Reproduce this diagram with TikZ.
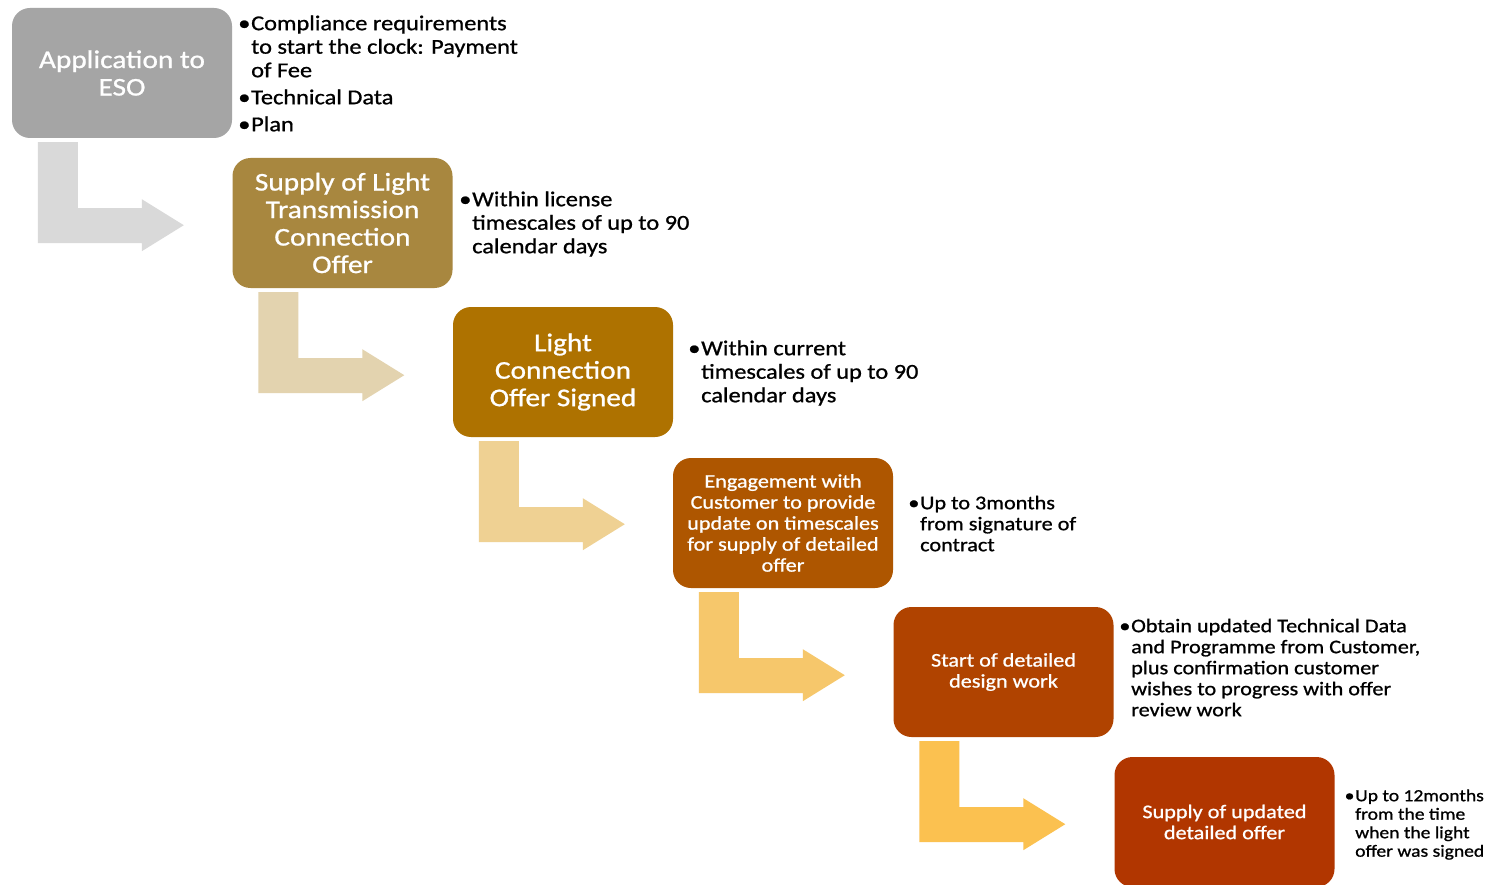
\documentclass[tikz,border=0pt]{standalone}
\usepackage{fontspec}
\setmainfont{Carlito}[FakeStretch=1.15, FakeBold=0.9]
\usetikzlibrary{calc}
\definecolor{bA}{HTML}{A5A5A5}\definecolor{aA}{HTML}{D9D9D9}
\definecolor{bB}{HTML}{A8873F}\definecolor{aB}{HTML}{E3D3AF}
\definecolor{bC}{HTML}{AE7200}\definecolor{aC}{HTML}{EFD193}
\definecolor{bD}{HTML}{AE5600}\definecolor{aD}{HTML}{F6C76B}
\definecolor{bE}{HTML}{B04300}\definecolor{aE}{HTML}{FBC150}
\definecolor{bF}{HTML}{B13600}\definecolor{aF}{HTML}{FFC145}
\newcommand{\bul}{\llap{\textbullet\kern0.8pt}}
\tikzset{
  stepbox/.style={rounded corners=18pt, minimum width=220pt, minimum height=130pt, inner sep=0pt, text=white, align=center},
  bigtxt/.style={font=\fontsize{25.5}{27.5}\selectfont},
  smalltxt/.style={font=\fontsize{19.3}{21}\selectfont},
  note/.style={anchor=north west, inner sep=0pt, align=left, text=black},
  noteL/.style={note, font=\fontsize{21.2}{23.5}\selectfont},
  noteM/.style={note, font=\fontsize{19.3}{21}\selectfont},
  noteS/.style={note, font=\fontsize{17}{18.5}\selectfont},
}
\newcommand{\bentarrow}[2]{%
  \fill[#2] ($(#1.south west)+(26,4)$) -- ($(#1.south west)+(66,4)$) -- ($(#1.south west)+(66,70)$)
    -- ($(#1.south west)+(130,70)$) -- ($(#1.south west)+(130,61)$) -- ($(#1.south west)+(172,87)$)
    -- ($(#1.south west)+(130,113)$) -- ($(#1.south west)+(130,105)$) -- ($(#1.south west)+(26,105)$) -- cycle;}
\begin{document}
\begin{tikzpicture}[x=1pt,y=-1pt]
\useasboundingbox[fill=white] (0,0) rectangle (1490,885);
\node[stepbox, bigtxt, fill=bA] (s1) at (122,73) {Application to\\ESO};
\node[stepbox, bigtxt, fill=bB] (s2) at (342.5,223) {Supply of Light\\Transmission\\Connection\\Offer};
\node[stepbox, bigtxt, fill=bC] (s3) at (563,372) {Light\\Connection\\Offer Signed};
\node[stepbox, smalltxt, fill=bD] (s4) at (783,523) {Engagement with\\Customer to provide\\update on timescales\\for supply of detailed\\offer};
\node[stepbox, smalltxt, fill=bE] (s5) at (1003.5,672) {Start of detailed\\design work};
\node[stepbox, smalltxt, fill=bF] (s6) at (1224.5,822) {Supply of updated\\detailed offer};
\bentarrow{s1}{aA}
\bentarrow{s2}{aB}
\bentarrow{s3}{aC}
\bentarrow{s4}{aD}
\bentarrow{s5}{aE}
\bentarrow{s6}{aF}
\node[noteL] (n1) at (251,13) {\rule{0pt}{17pt}\bul Compliance requirements\\to start the clock: Payment\\of Fee\\[3.5pt]\bul Technical Data\\[3.5pt]\bul Plan};
\node[noteL] (n2) at (472,189) {\rule{0pt}{17pt}\bul Within license\\timescales of up to 90\\calendar days};
\node[noteL] (n3) at (701,338) {\rule{0pt}{17pt}\bul Within current\\timescales of up to 90\\calendar days};
\node[noteM] (n4) at (920,493.5) {\rule{0pt}{15.5pt}\bul Up to 3months\\from signature of\\contract};
\node[noteM] (n5) at (1131,616.5) {\rule{0pt}{15.5pt}\bul Obtain updated Technical Data\\and Programme from Customer,\\plus confirmation customer\\wishes to progress with offer\\review work};
\node[noteS] (n6) at (1355,787) {\rule{0pt}{14pt}\bul Up to 12months\\from the time\\when the light\\offer was signed};
\end{tikzpicture}
\end{document}
